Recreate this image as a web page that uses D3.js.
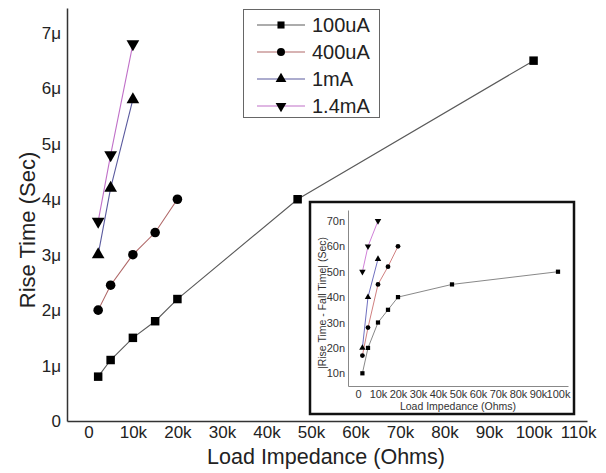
<!DOCTYPE html>
<html>
<head>
<meta charset="utf-8">
<script src="https://cdn.jsdelivr.net/npm/d3@7"></script>
<style>
  body { margin: 0; background: #fff; }
  svg { display: block; font-family: "Liberation Sans", Arial, sans-serif; }
</style>
</head>
<body>
<svg id="chart" width="606" height="473"></svg>
<script>
// Load impedance values (Ohms)
var loads = [2200, 5000, 10000, 15000, 20000, 47000, 100000];
var seriesNames = ["100uA", "400uA", "1mA", "1.4mA"];

// Rise time in microseconds (main chart)
var rise100uA = [0.8, 1.1, 1.5, 1.8, 2.2, 4.0, 6.5];
var rise400uA = [2.0, 2.45, 3.0, 3.4, 4.0];
var rise1mA = [3.0, 4.2, 5.8];
var rise14mA = [3.6, 4.8, 6.8];

// |Rise - Fall| in nanoseconds (inset)
var diff100uA = [10, 20, 30, 35, 40, 45, 50];
var diff400uA = [17, 28, 45, 52, 60];
var diff1mA = [20, 40, 55];
var diff14mA = [50, 60, 70];

// Tick values
var mainXTicks = [0, 10000, 20000, 30000, 40000, 50000, 60000, 70000, 80000, 90000, 100000, 110000];
var mainYTicks = [0, 1, 2, 3, 4, 5, 6, 7];
var insetXTicks = [0, 10000, 20000, 30000, 40000, 50000, 60000, 70000, 80000, 90000, 100000];
var insetYTicks = [10, 20, 30, 40, 50, 60, 70];

var mainSeries = [rise100uA, rise400uA, rise1mA, rise14mA];
var insetSeries = [diff100uA, diff400uA, diff1mA, diff14mA];

// Styles per series
var lineColors = ["#5a5a5a", "#b06868", "#5a5a9e", "#c070c8"];
var insetColors = ["#888888", "#d08080", "#7070c0", "#d080d8"];
var shapes = [d3.symbolSquare, d3.symbolCircle, d3.symbolTriangle, d3.symbolTriangle];
var rotations = [0, 0, 0, 180];

var svg = d3.select("#chart");

function kFormat(d) { return d === 0 ? "0" : (d / 1000) + "k"; }

// ---------- Main chart ----------
var x = d3.scaleLinear().domain([-4800, 112000]).range([67, 587]);
var y = d3.scaleLinear().domain([0, 7.45]).range([421, 8]);

var xAxis = svg.append("g")
    .attr("transform", "translate(0," + y(0) + ")")
    .call(d3.axisBottom(x).tickValues(mainXTicks).tickFormat(kFormat).tickSize(0).tickPadding(5));
xAxis.selectAll("text").attr("font-size", 17).attr("fill", "#222").attr("font-family", "Liberation Sans, Arial");
xAxis.select(".domain").attr("stroke", "#333").attr("stroke-width", 1.5);

var yAxis = svg.append("g")
    .attr("transform", "translate(" + x(-4800) + ",0)")
    .call(d3.axisLeft(y).tickValues(mainYTicks)
        .tickFormat(function (d) { return d === 0 ? "0" : d + "\u03bc"; })
        .tickSize(0).tickPadding(6));
yAxis.selectAll("text").attr("font-size", 17).attr("fill", "#222").attr("font-family", "Liberation Sans, Arial");
yAxis.select(".domain").attr("stroke", "#333").attr("stroke-width", 1.5);

svg.append("text")
    .attr("x", 326).attr("y", 464)
    .attr("text-anchor", "middle")
    .attr("font-size", 21.5).attr("fill", "#222")
    .text("Load Impedance (Ohms)");

svg.append("text")
    .attr("transform", "translate(35,230) rotate(-90)")
    .attr("text-anchor", "middle")
    .attr("font-size", 22).attr("fill", "#222")
    .text("Rise Time (Sec)");

var line = d3.line()
    .x(function (d) { return x(d[0]); })
    .y(function (d) { return y(d[1]); });

mainSeries.forEach(function (vals, i) {
    var pts = vals.map(function (v, j) { return [loads[j], v]; });
    svg.append("path")
        .attr("d", line(pts))
        .attr("fill", "none")
        .attr("stroke", lineColors[i])
        .attr("stroke-width", 1.1);
    svg.selectAll(null)
        .data(pts)
        .enter()
        .append("path")
        .attr("d", d3.symbol().type(shapes[i]).size(i < 2 ? 72 : 70))
        .attr("transform", function (d) {
            return "translate(" + x(d[0]) + "," + y(d[1]) + ") rotate(" + rotations[i] + ")";
        })
        .attr("fill", "#000");
});

// ---------- Legend ----------
var legend = svg.append("g");
legend.append("rect")
    .attr("x", 243.5).attr("y", 9.5)
    .attr("width", 136).attr("height", 108)
    .attr("fill", "#fff").attr("stroke", "#666").attr("stroke-width", 1);

seriesNames.forEach(function (name, i) {
    var ly = 25 + i * 27;
    legend.append("line")
        .attr("x1", 257).attr("x2", 305)
        .attr("y1", ly).attr("y2", ly)
        .attr("stroke", lineColors[i]).attr("stroke-width", 1.1);
    legend.append("path")
        .attr("d", d3.symbol().type(shapes[i]).size(50))
        .attr("transform", "translate(281," + ly + ") rotate(" + rotations[i] + ")")
        .attr("fill", "#000");
    legend.append("text")
        .attr("x", 312).attr("y", ly)
        .attr("dy", "0.36em")
        .attr("font-size", 20).attr("fill", "#222")
        .text(name);
});

// ---------- Inset chart ----------
var inset = svg.append("g");
inset.append("rect")
    .attr("x", 310).attr("y", 202)
    .attr("width", 264).attr("height", 212)
    .attr("fill", "#fff").attr("stroke", "#111").attr("stroke-width", 2.5);

var xi = d3.scaleLinear().domain([-5000, 105000]).range([348, 568]);
var yi = d3.scaleLinear().domain([5, 74.3]).range([386, 210]);

var xiAxis = inset.append("g")
    .attr("transform", "translate(0," + yi(5) + ")")
    .call(d3.axisBottom(xi).tickValues(insetXTicks).tickFormat(kFormat).tickSize(0).tickPadding(4));
xiAxis.selectAll("text").attr("font-size", 11).attr("fill", "#333").attr("font-family", "Liberation Sans, Arial");
xiAxis.select(".domain").attr("stroke", "#888").attr("stroke-width", 1);

var yiAxis = inset.append("g")
    .attr("transform", "translate(" + xi(-5000) + ",0)")
    .call(d3.axisLeft(yi).tickValues(insetYTicks)
        .tickFormat(function (d) { return d + "n"; })
        .tickSize(0).tickPadding(3));
yiAxis.selectAll("text").attr("font-size", 11).attr("fill", "#333").attr("font-family", "Liberation Sans, Arial");
yiAxis.select(".domain").attr("stroke", "#888").attr("stroke-width", 1);

inset.append("text")
    .attr("x", 458).attr("y", 410)
    .attr("text-anchor", "middle")
    .attr("font-size", 10.5).attr("fill", "#333")
    .text("Load Impedance (Ohms)");

inset.append("text")
    .attr("transform", "translate(326,303) rotate(-90)")
    .attr("text-anchor", "middle")
    .attr("font-size", 10.5).attr("fill", "#333")
    .text("|Rise Time - Fall Time| (Sec)");

var lineIn = d3.line()
    .x(function (d) { return xi(d[0]); })
    .y(function (d) { return yi(d[1]); });

insetSeries.forEach(function (vals, i) {
    var pts = vals.map(function (v, j) { return [loads[j], v]; });
    inset.append("path")
        .attr("d", lineIn(pts))
        .attr("fill", "none")
        .attr("stroke", insetColors[i])
        .attr("stroke-width", 1);
    inset.selectAll(null)
        .data(pts)
        .enter()
        .append("path")
        .attr("d", d3.symbol().type(shapes[i]).size(18))
        .attr("transform", function (d) {
            return "translate(" + xi(d[0]) + "," + yi(d[1]) + ") rotate(" + rotations[i] + ")";
        })
        .attr("fill", "#000");
});
</script>
</body>
</html>
